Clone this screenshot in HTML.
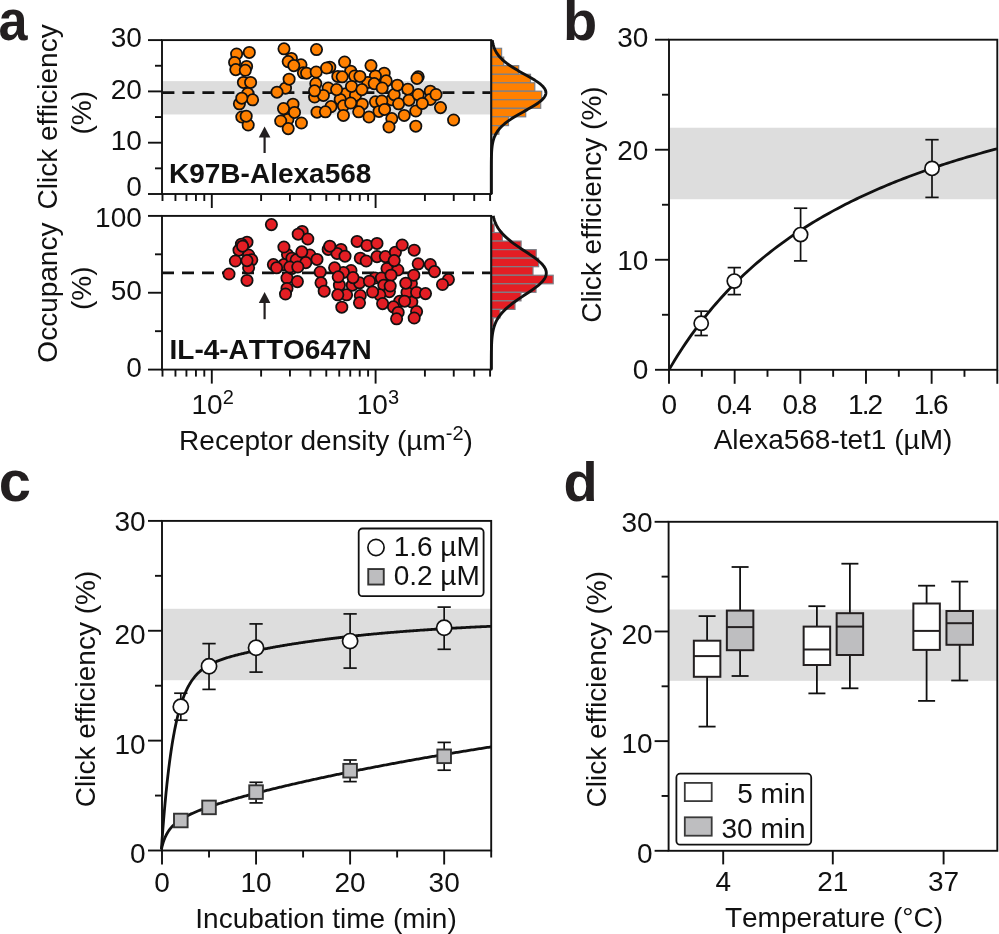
<!DOCTYPE html>
<html><head><meta charset="utf-8"><style>
html,body{margin:0;padding:0;background:#fff;}
svg{display:block;font-family:"Liberation Sans", sans-serif;font-kerning:none;will-change:transform;}
</style></head><body>
<svg width="999" height="934" viewBox="0 0 999 934">
<rect x="162.0" y="81.14" width="329.3" height="33.34" fill="#dddddd"/>
<line x1="162.00" y1="92.60" x2="491.30" y2="92.60" stroke="#111" stroke-width="2.8" stroke-dasharray="12,8" stroke-dashoffset="-0.4"/>
<line x1="162.00" y1="272.90" x2="491.30" y2="272.90" stroke="#111" stroke-width="2.8" stroke-dasharray="12,8"/>
<line x1="148.00" y1="194.00" x2="162.00" y2="194.00" stroke="#111" stroke-width="1.9" />
<line x1="155.00" y1="168.35" x2="162.00" y2="168.35" stroke="#111" stroke-width="1.9" />
<line x1="148.00" y1="142.70" x2="162.00" y2="142.70" stroke="#111" stroke-width="1.9" />
<line x1="155.00" y1="117.05" x2="162.00" y2="117.05" stroke="#111" stroke-width="1.9" />
<line x1="148.00" y1="91.40" x2="162.00" y2="91.40" stroke="#111" stroke-width="1.9" />
<line x1="155.00" y1="65.75" x2="162.00" y2="65.75" stroke="#111" stroke-width="1.9" />
<line x1="148.00" y1="40.10" x2="162.00" y2="40.10" stroke="#111" stroke-width="1.9" />
<text x="141.90" y="47.40" font-size="28" text-anchor="end" font-weight="normal" fill="#111" >30</text>
<text x="141.90" y="99.10" font-size="28" text-anchor="end" font-weight="normal" fill="#111" >20</text>
<text x="141.90" y="149.90" font-size="28" text-anchor="end" font-weight="normal" fill="#111" >10</text>
<text x="141.90" y="195.80" font-size="28" text-anchor="end" font-weight="normal" fill="#111" >0</text>
<line x1="148.00" y1="369.60" x2="162.00" y2="369.60" stroke="#111" stroke-width="1.9" />
<line x1="155.00" y1="331.18" x2="162.00" y2="331.18" stroke="#111" stroke-width="1.9" />
<line x1="148.00" y1="292.75" x2="162.00" y2="292.75" stroke="#111" stroke-width="1.9" />
<line x1="155.00" y1="254.32" x2="162.00" y2="254.32" stroke="#111" stroke-width="1.9" />
<line x1="148.00" y1="215.90" x2="162.00" y2="215.90" stroke="#111" stroke-width="1.9" />
<text x="141.80" y="227.10" font-size="28" text-anchor="end" font-weight="normal" fill="#111" >100</text>
<text x="141.80" y="300.00" font-size="28" text-anchor="end" font-weight="normal" fill="#111" >50</text>
<text x="141.80" y="377.10" font-size="28" text-anchor="end" font-weight="normal" fill="#111" >0</text>
<line x1="162.49" y1="194.00" x2="162.49" y2="201.00" stroke="#111" stroke-width="1.9" />
<line x1="175.46" y1="194.00" x2="175.46" y2="201.00" stroke="#111" stroke-width="1.9" />
<line x1="186.43" y1="194.00" x2="186.43" y2="201.00" stroke="#111" stroke-width="1.9" />
<line x1="195.93" y1="194.00" x2="195.93" y2="201.00" stroke="#111" stroke-width="1.9" />
<line x1="204.30" y1="194.00" x2="204.30" y2="201.00" stroke="#111" stroke-width="1.9" />
<line x1="211.80" y1="194.00" x2="211.80" y2="208.00" stroke="#111" stroke-width="1.9" />
<line x1="261.11" y1="194.00" x2="261.11" y2="201.00" stroke="#111" stroke-width="1.9" />
<line x1="289.95" y1="194.00" x2="289.95" y2="201.00" stroke="#111" stroke-width="1.9" />
<line x1="310.42" y1="194.00" x2="310.42" y2="201.00" stroke="#111" stroke-width="1.9" />
<line x1="326.29" y1="194.00" x2="326.29" y2="201.00" stroke="#111" stroke-width="1.9" />
<line x1="339.26" y1="194.00" x2="339.26" y2="201.00" stroke="#111" stroke-width="1.9" />
<line x1="350.23" y1="194.00" x2="350.23" y2="201.00" stroke="#111" stroke-width="1.9" />
<line x1="359.73" y1="194.00" x2="359.73" y2="201.00" stroke="#111" stroke-width="1.9" />
<line x1="368.10" y1="194.00" x2="368.10" y2="201.00" stroke="#111" stroke-width="1.9" />
<line x1="375.60" y1="194.00" x2="375.60" y2="208.00" stroke="#111" stroke-width="1.9" />
<line x1="424.91" y1="194.00" x2="424.91" y2="201.00" stroke="#111" stroke-width="1.9" />
<line x1="453.75" y1="194.00" x2="453.75" y2="201.00" stroke="#111" stroke-width="1.9" />
<line x1="474.22" y1="194.00" x2="474.22" y2="201.00" stroke="#111" stroke-width="1.9" />
<line x1="490.09" y1="194.00" x2="490.09" y2="201.00" stroke="#111" stroke-width="1.9" />
<line x1="162.49" y1="369.60" x2="162.49" y2="376.60" stroke="#111" stroke-width="1.9" />
<line x1="175.46" y1="369.60" x2="175.46" y2="376.60" stroke="#111" stroke-width="1.9" />
<line x1="186.43" y1="369.60" x2="186.43" y2="376.60" stroke="#111" stroke-width="1.9" />
<line x1="195.93" y1="369.60" x2="195.93" y2="376.60" stroke="#111" stroke-width="1.9" />
<line x1="204.30" y1="369.60" x2="204.30" y2="376.60" stroke="#111" stroke-width="1.9" />
<line x1="211.80" y1="369.60" x2="211.80" y2="383.60" stroke="#111" stroke-width="1.9" />
<line x1="261.11" y1="369.60" x2="261.11" y2="376.60" stroke="#111" stroke-width="1.9" />
<line x1="289.95" y1="369.60" x2="289.95" y2="376.60" stroke="#111" stroke-width="1.9" />
<line x1="310.42" y1="369.60" x2="310.42" y2="376.60" stroke="#111" stroke-width="1.9" />
<line x1="326.29" y1="369.60" x2="326.29" y2="376.60" stroke="#111" stroke-width="1.9" />
<line x1="339.26" y1="369.60" x2="339.26" y2="376.60" stroke="#111" stroke-width="1.9" />
<line x1="350.23" y1="369.60" x2="350.23" y2="376.60" stroke="#111" stroke-width="1.9" />
<line x1="359.73" y1="369.60" x2="359.73" y2="376.60" stroke="#111" stroke-width="1.9" />
<line x1="368.10" y1="369.60" x2="368.10" y2="376.60" stroke="#111" stroke-width="1.9" />
<line x1="375.60" y1="369.60" x2="375.60" y2="383.60" stroke="#111" stroke-width="1.9" />
<line x1="424.91" y1="369.60" x2="424.91" y2="376.60" stroke="#111" stroke-width="1.9" />
<line x1="453.75" y1="369.60" x2="453.75" y2="376.60" stroke="#111" stroke-width="1.9" />
<line x1="474.22" y1="369.60" x2="474.22" y2="376.60" stroke="#111" stroke-width="1.9" />
<line x1="490.09" y1="369.60" x2="490.09" y2="376.60" stroke="#111" stroke-width="1.9" />
<rect x="162.00" y="40.10" width="329.30" height="153.90" fill="none" stroke="#111" stroke-width="1.9"/>
<rect x="162.00" y="215.90" width="329.30" height="153.70" fill="none" stroke="#111" stroke-width="1.9"/>
<text x="191.50" y="413.50" font-size="28" text-anchor="start" font-weight="normal" fill="#111" >10<tspan font-size="20" dy="-10">2</tspan></text>
<text x="356.80" y="413.50" font-size="28" text-anchor="start" font-weight="normal" fill="#111" >10<tspan font-size="20" dy="-10">3</tspan></text>
<text x="326.00" y="449.70" font-size="28" text-anchor="middle" font-weight="normal" fill="#111" >Receptor density (µm<tspan font-size="20" dy="-10">-2</tspan><tspan dy="10">)</tspan></text>
<text transform="translate(57.30,116.90) rotate(-90)" font-size="28" text-anchor="middle" fill="#111" >Click efficiency</text>
<text transform="translate(91.00,112.80) rotate(-90)" font-size="28" text-anchor="middle" fill="#111" >(%)</text>
<text transform="translate(57.30,292.60) rotate(-90)" font-size="28" text-anchor="middle" fill="#111" >Occupancy</text>
<text transform="translate(91.00,288.30) rotate(-90)" font-size="28" text-anchor="middle" fill="#111" >(%)</text>
<text x="169.00" y="183.10" font-size="28" text-anchor="start" font-weight="bold" fill="#111" >K97B-Alexa568</text>
<text x="169.50" y="358.60" font-size="28" text-anchor="start" font-weight="bold" fill="#111" >IL-4-ATTO647N</text>
<path d="M258.80,137.50 L264.60,126.50 L270.40,137.50 Z" fill="#231f20"/>
<line x1="264.60" y1="134.50" x2="264.60" y2="153.00" stroke="#231f20" stroke-width="2.2" />
<path d="M258.80,303.10 L264.60,292.10 L270.40,303.10 Z" fill="#231f20"/>
<line x1="264.60" y1="300.10" x2="264.60" y2="319.20" stroke="#231f20" stroke-width="2.2" />
<rect x="669.0" y="127.73" width="328.30" height="71.52" fill="#dddddd"/>
<line x1="655.00" y1="369.80" x2="669.00" y2="369.80" stroke="#111" stroke-width="1.9" />
<line x1="662.00" y1="314.78" x2="669.00" y2="314.78" stroke="#111" stroke-width="1.9" />
<line x1="655.00" y1="259.77" x2="669.00" y2="259.77" stroke="#111" stroke-width="1.9" />
<line x1="662.00" y1="204.75" x2="669.00" y2="204.75" stroke="#111" stroke-width="1.9" />
<line x1="655.00" y1="149.73" x2="669.00" y2="149.73" stroke="#111" stroke-width="1.9" />
<line x1="662.00" y1="94.72" x2="669.00" y2="94.72" stroke="#111" stroke-width="1.9" />
<line x1="655.00" y1="39.70" x2="669.00" y2="39.70" stroke="#111" stroke-width="1.9" />
<text x="648.40" y="47.40" font-size="28" text-anchor="end" font-weight="normal" fill="#111" >30</text>
<text x="648.40" y="159.50" font-size="28" text-anchor="end" font-weight="normal" fill="#111" >20</text>
<text x="648.40" y="269.50" font-size="28" text-anchor="end" font-weight="normal" fill="#111" >10</text>
<text x="648.40" y="379.00" font-size="28" text-anchor="end" font-weight="normal" fill="#111" >0</text>
<line x1="669.00" y1="369.80" x2="669.00" y2="383.80" stroke="#111" stroke-width="1.9" />
<line x1="701.83" y1="369.80" x2="701.83" y2="376.80" stroke="#111" stroke-width="1.9" />
<line x1="734.66" y1="369.80" x2="734.66" y2="383.80" stroke="#111" stroke-width="1.9" />
<line x1="767.49" y1="369.80" x2="767.49" y2="376.80" stroke="#111" stroke-width="1.9" />
<line x1="800.32" y1="369.80" x2="800.32" y2="383.80" stroke="#111" stroke-width="1.9" />
<line x1="833.15" y1="369.80" x2="833.15" y2="376.80" stroke="#111" stroke-width="1.9" />
<line x1="865.98" y1="369.80" x2="865.98" y2="383.80" stroke="#111" stroke-width="1.9" />
<line x1="898.81" y1="369.80" x2="898.81" y2="376.80" stroke="#111" stroke-width="1.9" />
<line x1="931.64" y1="369.80" x2="931.64" y2="383.80" stroke="#111" stroke-width="1.9" />
<line x1="964.47" y1="369.80" x2="964.47" y2="376.80" stroke="#111" stroke-width="1.9" />
<line x1="997.30" y1="369.80" x2="997.30" y2="383.80" stroke="#111" stroke-width="1.9" />
<text x="669.20" y="414.00" font-size="28" text-anchor="middle" font-weight="normal" fill="#111" >0</text>
<text x="733.26" y="414.00" font-size="28" text-anchor="middle" font-weight="normal" fill="#111" letter-spacing="-2">0.4</text>
<text x="798.92" y="414.00" font-size="28" text-anchor="middle" font-weight="normal" fill="#111" letter-spacing="-2">0.8</text>
<text x="864.58" y="414.00" font-size="28" text-anchor="middle" font-weight="normal" fill="#111" letter-spacing="-2">1.2</text>
<text x="930.24" y="414.00" font-size="28" text-anchor="middle" font-weight="normal" fill="#111" letter-spacing="-2">1.6</text>
<text x="833.00" y="449.40" font-size="28" text-anchor="middle" font-weight="normal" fill="#111" >Alexa568-tet1 (µM)</text>
<text transform="translate(601.30,204.60) rotate(-90)" font-size="28" text-anchor="middle" fill="#111" >Click efficiency (%)</text>
<rect x="669.00" y="39.70" width="328.30" height="330.10" fill="none" stroke="#111" stroke-width="1.9"/>
<text x="563.00" y="40.40" font-size="56" text-anchor="start" font-weight="bold" fill="#231f20" >b</text>
<text transform="translate(-1.6,40.3) scale(0.9,1)" font-size="58" font-weight="bold" fill="#231f20">a</text>
<text x="-1.20" y="500.70" font-size="58" text-anchor="start" font-weight="bold" fill="#231f20" >c</text>
<text x="563.50" y="500.50" font-size="56" text-anchor="start" font-weight="bold" fill="#231f20" >d</text>
<rect x="162.0" y="608.79" width="329.20" height="71.41" fill="#dddddd"/>
<line x1="148.00" y1="850.50" x2="162.00" y2="850.50" stroke="#111" stroke-width="1.9" />
<line x1="155.00" y1="795.57" x2="162.00" y2="795.57" stroke="#111" stroke-width="1.9" />
<line x1="148.00" y1="740.63" x2="162.00" y2="740.63" stroke="#111" stroke-width="1.9" />
<line x1="155.00" y1="685.70" x2="162.00" y2="685.70" stroke="#111" stroke-width="1.9" />
<line x1="148.00" y1="630.77" x2="162.00" y2="630.77" stroke="#111" stroke-width="1.9" />
<line x1="155.00" y1="575.83" x2="162.00" y2="575.83" stroke="#111" stroke-width="1.9" />
<line x1="148.00" y1="520.90" x2="162.00" y2="520.90" stroke="#111" stroke-width="1.9" />
<text x="145.70" y="530.50" font-size="28" text-anchor="end" font-weight="normal" fill="#111" >30</text>
<text x="145.70" y="643.50" font-size="28" text-anchor="end" font-weight="normal" fill="#111" >20</text>
<text x="145.70" y="753.50" font-size="28" text-anchor="end" font-weight="normal" fill="#111" >10</text>
<text x="145.70" y="862.80" font-size="28" text-anchor="end" font-weight="normal" fill="#111" >0</text>
<line x1="162.00" y1="850.50" x2="162.00" y2="864.50" stroke="#111" stroke-width="1.9" />
<line x1="209.03" y1="850.50" x2="209.03" y2="857.50" stroke="#111" stroke-width="1.9" />
<line x1="256.06" y1="850.50" x2="256.06" y2="864.50" stroke="#111" stroke-width="1.9" />
<line x1="303.09" y1="850.50" x2="303.09" y2="857.50" stroke="#111" stroke-width="1.9" />
<line x1="350.11" y1="850.50" x2="350.11" y2="864.50" stroke="#111" stroke-width="1.9" />
<line x1="397.14" y1="850.50" x2="397.14" y2="857.50" stroke="#111" stroke-width="1.9" />
<line x1="444.17" y1="850.50" x2="444.17" y2="864.50" stroke="#111" stroke-width="1.9" />
<line x1="491.20" y1="850.50" x2="491.20" y2="857.50" stroke="#111" stroke-width="1.9" />
<text x="162.00" y="892.00" font-size="28" text-anchor="middle" font-weight="normal" fill="#111" >0</text>
<text x="256.06" y="892.00" font-size="28" text-anchor="middle" font-weight="normal" fill="#111" >10</text>
<text x="350.11" y="892.00" font-size="28" text-anchor="middle" font-weight="normal" fill="#111" >20</text>
<text x="444.17" y="892.00" font-size="28" text-anchor="middle" font-weight="normal" fill="#111" >30</text>
<text x="326.00" y="927.50" font-size="28" text-anchor="middle" font-weight="normal" fill="#111" >Incubation time (min)</text>
<text transform="translate(95.00,689.00) rotate(-90)" font-size="28" text-anchor="middle" fill="#111" >Click efficiency (%)</text>
<rect x="162.00" y="520.90" width="329.20" height="329.60" fill="none" stroke="#111" stroke-width="1.9"/>
<rect x="668.6" y="609.53" width="328.70" height="71.28" fill="#dddddd"/>
<line x1="654.60" y1="850.80" x2="668.60" y2="850.80" stroke="#111" stroke-width="1.9" />
<line x1="661.60" y1="795.97" x2="668.60" y2="795.97" stroke="#111" stroke-width="1.9" />
<line x1="654.60" y1="741.13" x2="668.60" y2="741.13" stroke="#111" stroke-width="1.9" />
<line x1="661.60" y1="686.30" x2="668.60" y2="686.30" stroke="#111" stroke-width="1.9" />
<line x1="654.60" y1="631.47" x2="668.60" y2="631.47" stroke="#111" stroke-width="1.9" />
<line x1="661.60" y1="576.63" x2="668.60" y2="576.63" stroke="#111" stroke-width="1.9" />
<line x1="654.60" y1="521.80" x2="668.60" y2="521.80" stroke="#111" stroke-width="1.9" />
<text x="652.70" y="531.70" font-size="28" text-anchor="end" font-weight="normal" fill="#111" >30</text>
<text x="652.70" y="643.80" font-size="28" text-anchor="end" font-weight="normal" fill="#111" >20</text>
<text x="652.70" y="753.30" font-size="28" text-anchor="end" font-weight="normal" fill="#111" >10</text>
<text x="652.70" y="862.90" font-size="28" text-anchor="end" font-weight="normal" fill="#111" >0</text>
<line x1="723.20" y1="850.80" x2="723.20" y2="864.40" stroke="#111" stroke-width="1.9" />
<text x="723.20" y="891.00" font-size="28" text-anchor="middle" font-weight="normal" fill="#111" >4</text>
<line x1="832.80" y1="850.80" x2="832.80" y2="864.40" stroke="#111" stroke-width="1.9" />
<text x="832.80" y="891.00" font-size="28" text-anchor="middle" font-weight="normal" fill="#111" >21</text>
<line x1="943.60" y1="850.80" x2="943.60" y2="864.40" stroke="#111" stroke-width="1.9" />
<text x="943.60" y="891.00" font-size="28" text-anchor="middle" font-weight="normal" fill="#111" >37</text>
<text x="834.00" y="927.30" font-size="28" text-anchor="middle" font-weight="normal" fill="#111" >Temperature (°C)</text>
<text transform="translate(605.80,689.20) rotate(-90)" font-size="28" text-anchor="middle" fill="#111" >Click efficiency (%)</text>
<rect x="668.60" y="521.80" width="328.70" height="329.00" fill="none" stroke="#111" stroke-width="1.9"/>
<clipPath id="cb"><rect x="669.00" y="39.70" width="328.30" height="330.10"/></clipPath>
<path d="M669.00,369.80 L671.76,365.11 L674.52,360.54 L677.28,356.09 L680.04,351.75 L682.79,347.51 L685.55,343.38 L688.31,339.34 L691.07,335.41 L693.83,331.56 L696.59,327.80 L699.35,324.13 L702.11,320.54 L704.86,317.03 L707.62,313.60 L710.38,310.25 L713.14,306.96 L715.90,303.75 L718.66,300.61 L721.42,297.53 L724.18,294.51 L726.94,291.56 L729.69,288.66 L732.45,285.83 L735.21,283.05 L737.97,280.33 L740.73,277.66 L743.49,275.04 L746.25,272.47 L749.01,269.95 L751.76,267.47 L754.52,265.05 L757.28,262.67 L760.04,260.33 L762.80,258.03 L765.56,255.78 L768.32,253.56 L771.08,251.38 L773.84,249.25 L776.59,247.15 L779.35,245.08 L782.11,243.05 L784.87,241.06 L787.63,239.09 L790.39,237.17 L793.15,235.27 L795.91,233.40 L798.66,231.56 L801.42,229.76 L804.18,227.98 L806.94,226.23 L809.70,224.51 L812.46,222.81 L815.22,221.14 L817.98,219.50 L820.74,217.88 L823.49,216.29 L826.25,214.71 L829.01,213.17 L831.77,211.64 L834.53,210.14 L837.29,208.66 L840.05,207.20 L842.81,205.76 L845.56,204.35 L848.32,202.95 L851.08,201.57 L853.84,200.21 L856.60,198.87 L859.36,197.55 L862.12,196.25 L864.88,194.96 L867.64,193.70 L870.39,192.45 L873.15,191.21 L875.91,189.99 L878.67,188.79 L881.43,187.60 L884.19,186.43 L886.95,185.28 L889.71,184.13 L892.46,183.01 L895.22,181.89 L897.98,180.80 L900.74,179.71 L903.50,178.64 L906.26,177.58 L909.02,176.54 L911.78,175.50 L914.54,174.48 L917.29,173.47 L920.05,172.48 L922.81,171.49 L925.57,170.52 L928.33,169.56 L931.09,168.61 L933.85,167.67 L936.61,166.74 L939.36,165.83 L942.12,164.92 L944.88,164.02 L947.64,163.14 L950.40,162.26 L953.16,161.39 L955.92,160.53 L958.68,159.69 L961.44,158.85 L964.19,158.02 L966.95,157.20 L969.71,156.39 L972.47,155.58 L975.23,154.79 L977.99,154.00 L980.75,153.23 L983.51,152.46 L986.26,151.70 L989.02,150.94 L991.78,150.20 L994.54,149.46 L997.30,148.73" fill="none" stroke="#111" stroke-width="2.8" clip-path="url(#cb)"/>
<line x1="701.20" y1="311.20" x2="701.20" y2="335.50" stroke="#111" stroke-width="1.7" />
<line x1="694.55" y1="311.20" x2="707.85" y2="311.20" stroke="#111" stroke-width="1.7" />
<line x1="694.55" y1="335.50" x2="707.85" y2="335.50" stroke="#111" stroke-width="1.7" />
<circle cx="701.20" cy="323.30" r="7.1" fill="#fff" stroke="#111" stroke-width="1.7"/>
<line x1="734.30" y1="267.60" x2="734.30" y2="294.60" stroke="#111" stroke-width="1.7" />
<line x1="727.65" y1="267.60" x2="740.95" y2="267.60" stroke="#111" stroke-width="1.7" />
<line x1="727.65" y1="294.60" x2="740.95" y2="294.60" stroke="#111" stroke-width="1.7" />
<circle cx="734.30" cy="281.10" r="7.1" fill="#fff" stroke="#111" stroke-width="1.7"/>
<line x1="800.60" y1="208.20" x2="800.60" y2="260.90" stroke="#111" stroke-width="1.7" />
<line x1="793.95" y1="208.20" x2="807.25" y2="208.20" stroke="#111" stroke-width="1.7" />
<line x1="793.95" y1="260.90" x2="807.25" y2="260.90" stroke="#111" stroke-width="1.7" />
<circle cx="800.60" cy="234.60" r="7.1" fill="#fff" stroke="#111" stroke-width="1.7"/>
<line x1="932.00" y1="139.70" x2="932.00" y2="197.40" stroke="#111" stroke-width="1.7" />
<line x1="925.35" y1="139.70" x2="938.65" y2="139.70" stroke="#111" stroke-width="1.7" />
<line x1="925.35" y1="197.40" x2="938.65" y2="197.40" stroke="#111" stroke-width="1.7" />
<circle cx="932.00" cy="168.40" r="7.1" fill="#fff" stroke="#111" stroke-width="1.7"/>
<path d="M161.40,849.40 L161.42,849.07 L161.47,848.40 L161.53,847.49 L161.61,846.39 L161.70,845.11 L161.80,843.68 L161.91,842.12 L162.03,840.43 L162.16,838.62 L162.30,836.72 L162.45,834.71 L162.61,832.62 L162.77,830.45 L162.94,828.21 L163.12,825.91 L163.31,823.54 L163.51,821.13 L163.71,818.66 L163.92,816.15 L164.13,813.61 L164.35,811.03 L164.58,808.43 L164.82,805.80 L165.06,803.16 L165.31,800.50 L165.56,797.82 L165.82,795.15 L166.08,792.46 L166.35,789.78 L166.63,787.10 L166.91,784.43 L167.20,781.76 L167.49,779.11 L167.79,776.47 L168.09,773.85 L168.40,771.24 L168.71,768.66 L169.03,766.10 L169.36,763.56 L169.68,761.05 L170.02,758.57 L170.36,756.11 L170.70,753.69 L171.05,751.30 L171.40,748.94 L171.76,746.61 L172.12,744.32 L172.49,742.07 L172.86,739.85 L173.24,737.67 L173.62,735.53 L174.01,733.43 L174.40,731.36 L174.79,729.34 L175.19,727.35 L175.59,725.40 L176.00,723.49 L176.41,721.62 L176.83,719.79 L177.25,718.00 L177.67,716.25 L178.10,714.54 L178.54,712.87 L178.97,711.24 L179.41,709.64 L179.86,708.09 L180.31,706.57 L180.76,705.08 L181.22,703.64 L181.68,702.23 L182.15,700.86 L182.62,699.52 L183.09,698.22 L183.57,696.95 L184.05,695.71 L184.53,694.51 L185.02,693.34 L185.52,692.21 L186.01,691.10 L186.51,690.02 L187.02,688.98 L187.53,687.96 L188.04,686.97 L188.55,686.01 L189.07,685.08 L189.59,684.17 L190.12,683.29 L190.65,682.44 L191.18,681.61 L191.72,680.80 L192.26,680.02 L192.81,679.26 L193.35,678.52 L193.91,677.80 L194.46,677.10 L195.02,676.43 L195.58,675.77 L196.15,675.13 L196.72,674.51 L197.29,673.91 L197.86,673.33 L198.44,672.76 L199.03,672.20 L199.61,671.67 L200.20,671.15 L200.80,670.64 L201.39,670.14 L201.99,669.66 L202.59,669.20 L203.20,668.74 L203.81,668.30 L204.42,667.87 L205.04,667.45 L205.66,667.04 L206.28,666.64 L206.91,666.25 L207.54,665.87 L208.17,665.50 L208.81,665.14 L209.45,664.79 L210.09,664.45 L210.73,664.11 L211.38,663.78 L212.03,663.46 L212.69,663.15 L213.35,662.84 L214.01,662.54 L214.67,662.24 L215.34,661.95 L216.01,661.67 L216.68,661.39 L217.36,661.11 L218.04,660.84 L218.72,660.58 L219.41,660.32 L220.10,660.07 L220.79,659.81 L221.49,659.57 L222.18,659.32 L222.88,659.08 L223.59,658.85 L224.30,658.61 L225.01,658.38 L225.72,658.16 L226.44,657.93 L227.15,657.71 L227.88,657.49 L228.60,657.28 L229.33,657.06 L230.06,656.85 L230.79,656.64 L231.53,656.43 L232.27,656.23 L233.01,656.02 L233.76,655.82 L234.51,655.62 L235.26,655.42 L236.01,655.23 L236.77,655.03 L237.53,654.84 L238.29,654.64 L239.06,654.45 L239.83,654.26 L240.60,654.08 L241.37,653.89 L242.15,653.70 L242.93,653.52 L243.71,653.33 L244.50,653.15 L245.28,652.97 L246.07,652.79 L246.87,652.61 L247.67,652.43 L248.46,652.25 L249.27,652.07 L250.07,651.90 L250.88,651.72 L251.69,651.55 L252.50,651.37 L253.32,651.20 L254.14,651.02 L254.96,650.85 L255.78,650.68 L256.61,650.51 L257.44,650.34 L258.27,650.17 L259.10,650.00 L259.94,649.83 L260.78,649.67 L261.62,649.50 L262.47,649.33 L263.32,649.17 L264.17,649.00 L265.02,648.84 L265.88,648.67 L266.73,648.51 L267.60,648.35 L268.46,648.18 L269.33,648.02 L270.20,647.86 L271.07,647.70 L271.94,647.54 L272.82,647.38 L273.70,647.22 L274.58,647.06 L275.46,646.90 L276.35,646.74 L277.24,646.59 L278.13,646.43 L279.03,646.27 L279.93,646.12 L280.83,645.96 L281.73,645.81 L282.63,645.65 L283.54,645.50 L284.45,645.35 L285.36,645.19 L286.28,645.04 L287.20,644.89 L288.12,644.74 L289.04,644.59 L289.97,644.44 L290.89,644.29 L291.82,644.14 L292.76,643.99 L293.69,643.84 L294.63,643.69 L295.57,643.55 L296.51,643.40 L297.46,643.26 L298.41,643.11 L299.36,642.97 L300.31,642.82 L301.26,642.68 L302.22,642.53 L303.18,642.39 L304.14,642.25 L305.11,642.11 L306.08,641.97 L307.05,641.83 L308.02,641.69 L308.99,641.55 L309.97,641.41 L310.95,641.27 L311.93,641.13 L312.92,640.99 L313.90,640.86 L314.89,640.72 L315.88,640.58 L316.88,640.45 L317.87,640.31 L318.87,640.18 L319.87,640.05 L320.88,639.91 L321.88,639.78 L322.89,639.65 L323.90,639.52 L324.91,639.39 L325.93,639.26 L326.95,639.13 L327.97,639.00 L328.99,638.87 L330.01,638.74 L331.04,638.61 L332.07,638.49 L333.10,638.36 L334.13,638.24 L335.17,638.11 L336.21,637.99 L337.25,637.86 L338.29,637.74 L339.34,637.62 L340.39,637.49 L341.44,637.37 L342.49,637.25 L343.54,637.13 L344.60,637.01 L345.66,636.89 L346.72,636.77 L347.79,636.65 L348.85,636.54 L349.92,636.42 L350.99,636.30 L352.06,636.18 L353.14,636.07 L354.22,635.95 L355.30,635.84 L356.38,635.73 L357.46,635.61 L358.55,635.50 L359.64,635.39 L360.73,635.28 L361.82,635.16 L362.92,635.05 L364.02,634.94 L365.12,634.83 L366.22,634.73 L367.32,634.62 L368.43,634.51 L369.54,634.40 L370.65,634.30 L371.76,634.19 L372.88,634.08 L374.00,633.98 L375.12,633.87 L376.24,633.77 L377.36,633.67 L378.49,633.56 L379.62,633.46 L380.75,633.36 L381.88,633.26 L383.02,633.16 L384.16,633.06 L385.30,632.96 L386.44,632.86 L387.58,632.76 L388.73,632.66 L389.88,632.57 L391.03,632.47 L392.18,632.37 L393.34,632.28 L394.49,632.18 L395.65,632.09 L396.81,631.99 L397.98,631.90 L399.14,631.81 L400.31,631.72 L401.48,631.62 L402.65,631.53 L403.83,631.44 L405.00,631.35 L406.18,631.26 L407.36,631.17 L408.55,631.08 L409.73,630.99 L410.92,630.91 L412.11,630.82 L413.30,630.73 L414.49,630.65 L415.69,630.56 L416.89,630.48 L418.09,630.39 L419.29,630.31 L420.49,630.22 L421.70,630.14 L422.91,630.06 L424.12,629.98 L425.33,629.89 L426.54,629.81 L427.76,629.73 L428.98,629.65 L430.20,629.57 L431.42,629.49 L432.65,629.41 L433.87,629.34 L435.10,629.26 L436.34,629.18 L437.57,629.10 L438.80,629.03 L440.04,628.95 L441.28,628.88 L442.52,628.80 L443.77,628.73 L445.01,628.65 L446.26,628.58 L447.51,628.51 L448.76,628.44 L450.01,628.36 L451.27,628.29 L452.53,628.22 L453.79,628.15 L455.05,628.08 L456.31,628.01 L457.58,627.94 L458.85,627.87 L460.12,627.80 L461.39,627.74 L462.66,627.67 L463.94,627.60 L465.22,627.54 L466.50,627.47 L467.78,627.40 L469.07,627.34 L470.35,627.27 L471.64,627.21 L472.93,627.15 L474.22,627.08 L475.52,627.02 L476.81,626.96 L478.11,626.90 L479.41,626.83 L480.71,626.77 L482.02,626.71 L483.33,626.65 L484.63,626.59 L485.94,626.53 L487.26,626.47 L488.57,626.41 L489.89,626.36 L491.21,626.30" fill="none" stroke="#111" stroke-width="2.8"/>
<path d="M161.40,849.40 L161.42,849.30 L161.47,849.09 L161.53,848.80 L161.61,848.46 L161.70,848.07 L161.80,847.65 L161.91,847.18 L162.03,846.69 L162.16,846.17 L162.30,845.64 L162.45,845.08 L162.61,844.52 L162.77,843.94 L162.94,843.36 L163.12,842.77 L163.31,842.18 L163.51,841.58 L163.71,840.99 L163.92,840.40 L164.13,839.81 L164.35,839.22 L164.58,838.64 L164.82,838.06 L165.06,837.49 L165.31,836.93 L165.56,836.37 L165.82,835.83 L166.08,835.29 L166.35,834.75 L166.63,834.23 L166.91,833.71 L167.20,833.20 L167.49,832.70 L167.79,832.21 L168.09,831.73 L168.40,831.26 L168.71,830.79 L169.03,830.33 L169.36,829.88 L169.68,829.44 L170.02,829.00 L170.36,828.57 L170.70,828.15 L171.05,827.74 L171.40,827.33 L171.76,826.93 L172.12,826.54 L172.49,826.15 L172.86,825.77 L173.24,825.40 L173.62,825.03 L174.01,824.66 L174.40,824.31 L174.79,823.95 L175.19,823.61 L175.59,823.26 L176.00,822.93 L176.41,822.59 L176.83,822.26 L177.25,821.94 L177.67,821.62 L178.10,821.30 L178.54,820.99 L178.97,820.68 L179.41,820.38 L179.86,820.08 L180.31,819.78 L180.76,819.49 L181.22,819.20 L181.68,818.91 L182.15,818.62 L182.62,818.34 L183.09,818.06 L183.57,817.78 L184.05,817.51 L184.53,817.24 L185.02,816.97 L185.52,816.70 L186.01,816.44 L186.51,816.17 L187.02,815.91 L187.53,815.66 L188.04,815.40 L188.55,815.14 L189.07,814.89 L189.59,814.64 L190.12,814.39 L190.65,814.14 L191.18,813.89 L191.72,813.65 L192.26,813.40 L192.81,813.16 L193.35,812.92 L193.91,812.68 L194.46,812.44 L195.02,812.20 L195.58,811.97 L196.15,811.73 L196.72,811.50 L197.29,811.26 L197.86,811.03 L198.44,810.80 L199.03,810.57 L199.61,810.34 L200.20,810.11 L200.80,809.88 L201.39,809.65 L201.99,809.43 L202.59,809.20 L203.20,808.97 L203.81,808.75 L204.42,808.52 L205.04,808.30 L205.66,808.08 L206.28,807.86 L206.91,807.63 L207.54,807.41 L208.17,807.19 L208.81,806.97 L209.45,806.75 L210.09,806.53 L210.73,806.31 L211.38,806.09 L212.03,805.87 L212.69,805.65 L213.35,805.44 L214.01,805.22 L214.67,805.00 L215.34,804.78 L216.01,804.57 L216.68,804.35 L217.36,804.13 L218.04,803.92 L218.72,803.70 L219.41,803.49 L220.10,803.27 L220.79,803.06 L221.49,802.84 L222.18,802.63 L222.88,802.41 L223.59,802.20 L224.30,801.98 L225.01,801.77 L225.72,801.55 L226.44,801.34 L227.15,801.12 L227.88,800.91 L228.60,800.70 L229.33,800.48 L230.06,800.27 L230.79,800.06 L231.53,799.84 L232.27,799.63 L233.01,799.41 L233.76,799.20 L234.51,798.99 L235.26,798.77 L236.01,798.56 L236.77,798.35 L237.53,798.13 L238.29,797.92 L239.06,797.71 L239.83,797.50 L240.60,797.28 L241.37,797.07 L242.15,796.86 L242.93,796.64 L243.71,796.43 L244.50,796.22 L245.28,796.00 L246.07,795.79 L246.87,795.58 L247.67,795.36 L248.46,795.15 L249.27,794.94 L250.07,794.72 L250.88,794.51 L251.69,794.30 L252.50,794.08 L253.32,793.87 L254.14,793.66 L254.96,793.44 L255.78,793.23 L256.61,793.02 L257.44,792.80 L258.27,792.59 L259.10,792.37 L259.94,792.16 L260.78,791.95 L261.62,791.73 L262.47,791.52 L263.32,791.30 L264.17,791.09 L265.02,790.88 L265.88,790.66 L266.73,790.45 L267.60,790.23 L268.46,790.02 L269.33,789.81 L270.20,789.59 L271.07,789.38 L271.94,789.16 L272.82,788.95 L273.70,788.73 L274.58,788.52 L275.46,788.30 L276.35,788.09 L277.24,787.87 L278.13,787.66 L279.03,787.45 L279.93,787.23 L280.83,787.02 L281.73,786.80 L282.63,786.59 L283.54,786.37 L284.45,786.16 L285.36,785.94 L286.28,785.73 L287.20,785.51 L288.12,785.29 L289.04,785.08 L289.97,784.86 L290.89,784.65 L291.82,784.43 L292.76,784.22 L293.69,784.00 L294.63,783.79 L295.57,783.57 L296.51,783.36 L297.46,783.14 L298.41,782.92 L299.36,782.71 L300.31,782.49 L301.26,782.28 L302.22,782.06 L303.18,781.84 L304.14,781.63 L305.11,781.41 L306.08,781.20 L307.05,780.98 L308.02,780.76 L308.99,780.55 L309.97,780.33 L310.95,780.12 L311.93,779.90 L312.92,779.68 L313.90,779.47 L314.89,779.25 L315.88,779.04 L316.88,778.82 L317.87,778.60 L318.87,778.39 L319.87,778.17 L320.88,777.95 L321.88,777.74 L322.89,777.52 L323.90,777.31 L324.91,777.09 L325.93,776.87 L326.95,776.66 L327.97,776.44 L328.99,776.22 L330.01,776.01 L331.04,775.79 L332.07,775.58 L333.10,775.36 L334.13,775.14 L335.17,774.93 L336.21,774.71 L337.25,774.49 L338.29,774.28 L339.34,774.06 L340.39,773.84 L341.44,773.63 L342.49,773.41 L343.54,773.20 L344.60,772.98 L345.66,772.76 L346.72,772.55 L347.79,772.33 L348.85,772.11 L349.92,771.90 L350.99,771.68 L352.06,771.47 L353.14,771.25 L354.22,771.03 L355.30,770.82 L356.38,770.60 L357.46,770.39 L358.55,770.17 L359.64,769.95 L360.73,769.74 L361.82,769.52 L362.92,769.31 L364.02,769.09 L365.12,768.88 L366.22,768.66 L367.32,768.44 L368.43,768.23 L369.54,768.01 L370.65,767.80 L371.76,767.58 L372.88,767.37 L374.00,767.15 L375.12,766.94 L376.24,766.72 L377.36,766.51 L378.49,766.29 L379.62,766.08 L380.75,765.86 L381.88,765.65 L383.02,765.43 L384.16,765.22 L385.30,765.00 L386.44,764.79 L387.58,764.57 L388.73,764.36 L389.88,764.14 L391.03,763.93 L392.18,763.71 L393.34,763.50 L394.49,763.28 L395.65,763.07 L396.81,762.86 L397.98,762.64 L399.14,762.43 L400.31,762.21 L401.48,762.00 L402.65,761.79 L403.83,761.57 L405.00,761.36 L406.18,761.14 L407.36,760.93 L408.55,760.72 L409.73,760.50 L410.92,760.29 L412.11,760.08 L413.30,759.87 L414.49,759.65 L415.69,759.44 L416.89,759.23 L418.09,759.01 L419.29,758.80 L420.49,758.59 L421.70,758.38 L422.91,758.16 L424.12,757.95 L425.33,757.74 L426.54,757.53 L427.76,757.32 L428.98,757.10 L430.20,756.89 L431.42,756.68 L432.65,756.47 L433.87,756.26 L435.10,756.05 L436.34,755.83 L437.57,755.62 L438.80,755.41 L440.04,755.20 L441.28,754.99 L442.52,754.78 L443.77,754.57 L445.01,754.36 L446.26,754.15 L447.51,753.94 L448.76,753.73 L450.01,753.52 L451.27,753.31 L452.53,753.10 L453.79,752.89 L455.05,752.68 L456.31,752.47 L457.58,752.26 L458.85,752.05 L460.12,751.84 L461.39,751.63 L462.66,751.42 L463.94,751.21 L465.22,751.01 L466.50,750.80 L467.78,750.59 L469.07,750.38 L470.35,750.17 L471.64,749.96 L472.93,749.76 L474.22,749.55 L475.52,749.34 L476.81,749.13 L478.11,748.93 L479.41,748.72 L480.71,748.51 L482.02,748.31 L483.33,748.10 L484.63,747.89 L485.94,747.69 L487.26,747.48 L488.57,747.27 L489.89,747.07 L491.21,746.86" fill="none" stroke="#111" stroke-width="2.8"/>
<line x1="180.81" y1="693.20" x2="180.81" y2="720.20" stroke="#111" stroke-width="1.7" />
<line x1="174.16" y1="693.20" x2="187.46" y2="693.20" stroke="#111" stroke-width="1.7" />
<line x1="174.16" y1="720.20" x2="187.46" y2="720.20" stroke="#111" stroke-width="1.7" />
<circle cx="180.81" cy="706.70" r="7.6" fill="#fff" stroke="#111" stroke-width="1.7"/>
<line x1="209.03" y1="643.60" x2="209.03" y2="689.40" stroke="#111" stroke-width="1.7" />
<line x1="202.38" y1="643.60" x2="215.68" y2="643.60" stroke="#111" stroke-width="1.7" />
<line x1="202.38" y1="689.40" x2="215.68" y2="689.40" stroke="#111" stroke-width="1.7" />
<circle cx="209.03" cy="666.30" r="7.6" fill="#fff" stroke="#111" stroke-width="1.7"/>
<line x1="256.06" y1="623.90" x2="256.06" y2="672.10" stroke="#111" stroke-width="1.7" />
<line x1="249.41" y1="623.90" x2="262.71" y2="623.90" stroke="#111" stroke-width="1.7" />
<line x1="249.41" y1="672.10" x2="262.71" y2="672.10" stroke="#111" stroke-width="1.7" />
<circle cx="256.06" cy="647.70" r="7.6" fill="#fff" stroke="#111" stroke-width="1.7"/>
<line x1="350.11" y1="613.90" x2="350.11" y2="668.10" stroke="#111" stroke-width="1.7" />
<line x1="343.46" y1="613.90" x2="356.76" y2="613.90" stroke="#111" stroke-width="1.7" />
<line x1="343.46" y1="668.10" x2="356.76" y2="668.10" stroke="#111" stroke-width="1.7" />
<circle cx="350.11" cy="641.10" r="7.6" fill="#fff" stroke="#111" stroke-width="1.7"/>
<line x1="444.17" y1="607.10" x2="444.17" y2="649.30" stroke="#111" stroke-width="1.7" />
<line x1="437.52" y1="607.10" x2="450.82" y2="607.10" stroke="#111" stroke-width="1.7" />
<line x1="437.52" y1="649.30" x2="450.82" y2="649.30" stroke="#111" stroke-width="1.7" />
<circle cx="444.17" cy="627.80" r="7.6" fill="#fff" stroke="#111" stroke-width="1.7"/>
<rect x="174.01" y="813.70" width="13.6" height="13.6" fill="#bdbdbf" stroke="#333" stroke-width="1.9"/>
<rect x="202.23" y="800.60" width="13.6" height="13.6" fill="#bdbdbf" stroke="#333" stroke-width="1.9"/>
<line x1="256.06" y1="782.30" x2="256.06" y2="802.90" stroke="#111" stroke-width="1.7" />
<line x1="249.41" y1="782.30" x2="262.71" y2="782.30" stroke="#111" stroke-width="1.7" />
<line x1="249.41" y1="802.90" x2="262.71" y2="802.90" stroke="#111" stroke-width="1.7" />
<rect x="249.26" y="785.30" width="13.6" height="13.6" fill="#bdbdbf" stroke="#333" stroke-width="1.9"/>
<line x1="350.11" y1="760.00" x2="350.11" y2="781.60" stroke="#111" stroke-width="1.7" />
<line x1="343.46" y1="760.00" x2="356.76" y2="760.00" stroke="#111" stroke-width="1.7" />
<line x1="343.46" y1="781.60" x2="356.76" y2="781.60" stroke="#111" stroke-width="1.7" />
<rect x="343.31" y="763.90" width="13.6" height="13.6" fill="#bdbdbf" stroke="#333" stroke-width="1.9"/>
<line x1="444.17" y1="742.40" x2="444.17" y2="770.20" stroke="#111" stroke-width="1.7" />
<line x1="437.52" y1="742.40" x2="450.82" y2="742.40" stroke="#111" stroke-width="1.7" />
<line x1="437.52" y1="770.20" x2="450.82" y2="770.20" stroke="#111" stroke-width="1.7" />
<rect x="437.37" y="749.50" width="13.6" height="13.6" fill="#bdbdbf" stroke="#333" stroke-width="1.9"/>
<rect x="358.7" y="528.5" width="124.9" height="67.6" rx="3.7" fill="#fff" stroke="#111" stroke-width="1.8"/>
<circle cx="376.00" cy="547.50" r="8.1" fill="#fff" stroke="#111" stroke-width="1.7"/>
<rect x="368.25" y="569.05" width="15.5" height="15.5" fill="#bdbdbf" stroke="#333" stroke-width="1.9"/>
<text x="479.80" y="556.30" font-size="28" text-anchor="end" font-weight="normal" fill="#111" >1.6 µM</text>
<text x="479.80" y="585.30" font-size="28" text-anchor="end" font-weight="normal" fill="#111" >0.2 µM</text>
<line x1="707.10" y1="616.10" x2="707.10" y2="640.70" stroke="#111" stroke-width="1.8" />
<line x1="707.10" y1="676.80" x2="707.10" y2="726.60" stroke="#111" stroke-width="1.8" />
<line x1="698.60" y1="616.10" x2="715.60" y2="616.10" stroke="#111" stroke-width="1.8" />
<line x1="698.60" y1="726.60" x2="715.60" y2="726.60" stroke="#111" stroke-width="1.8" />
<rect x="693.85" y="640.70" width="26.5" height="36.10" fill="#fff" stroke="#231f20" stroke-width="2"/>
<line x1="693.85" y1="656.10" x2="720.35" y2="656.10" stroke="#231f20" stroke-width="2" />
<line x1="740.10" y1="567.00" x2="740.10" y2="610.60" stroke="#111" stroke-width="1.8" />
<line x1="740.10" y1="650.20" x2="740.10" y2="676.00" stroke="#111" stroke-width="1.8" />
<line x1="731.60" y1="567.00" x2="748.60" y2="567.00" stroke="#111" stroke-width="1.8" />
<line x1="731.60" y1="676.00" x2="748.60" y2="676.00" stroke="#111" stroke-width="1.8" />
<rect x="726.85" y="610.60" width="26.5" height="39.60" fill="#bebec0" stroke="#231f20" stroke-width="2"/>
<line x1="726.85" y1="627.10" x2="753.35" y2="627.10" stroke="#231f20" stroke-width="2" />
<line x1="816.90" y1="606.20" x2="816.90" y2="626.60" stroke="#111" stroke-width="1.8" />
<line x1="816.90" y1="665.00" x2="816.90" y2="693.40" stroke="#111" stroke-width="1.8" />
<line x1="808.40" y1="606.20" x2="825.40" y2="606.20" stroke="#111" stroke-width="1.8" />
<line x1="808.40" y1="693.40" x2="825.40" y2="693.40" stroke="#111" stroke-width="1.8" />
<rect x="803.65" y="626.60" width="26.5" height="38.40" fill="#fff" stroke="#231f20" stroke-width="2"/>
<line x1="803.65" y1="649.50" x2="830.15" y2="649.50" stroke="#231f20" stroke-width="2" />
<line x1="849.90" y1="563.70" x2="849.90" y2="613.20" stroke="#111" stroke-width="1.8" />
<line x1="849.90" y1="655.00" x2="849.90" y2="688.30" stroke="#111" stroke-width="1.8" />
<line x1="841.40" y1="563.70" x2="858.40" y2="563.70" stroke="#111" stroke-width="1.8" />
<line x1="841.40" y1="688.30" x2="858.40" y2="688.30" stroke="#111" stroke-width="1.8" />
<rect x="836.65" y="613.20" width="26.5" height="41.80" fill="#bebec0" stroke="#231f20" stroke-width="2"/>
<line x1="836.65" y1="626.60" x2="863.15" y2="626.60" stroke="#231f20" stroke-width="2" />
<line x1="926.60" y1="585.70" x2="926.60" y2="603.50" stroke="#111" stroke-width="1.8" />
<line x1="926.60" y1="649.90" x2="926.60" y2="700.90" stroke="#111" stroke-width="1.8" />
<line x1="918.10" y1="585.70" x2="935.10" y2="585.70" stroke="#111" stroke-width="1.8" />
<line x1="918.10" y1="700.90" x2="935.10" y2="700.90" stroke="#111" stroke-width="1.8" />
<rect x="913.35" y="603.50" width="26.5" height="46.40" fill="#fff" stroke="#231f20" stroke-width="2"/>
<line x1="913.35" y1="630.90" x2="939.85" y2="630.90" stroke="#231f20" stroke-width="2" />
<line x1="959.70" y1="581.60" x2="959.70" y2="611.00" stroke="#111" stroke-width="1.8" />
<line x1="959.70" y1="644.80" x2="959.70" y2="680.50" stroke="#111" stroke-width="1.8" />
<line x1="951.20" y1="581.60" x2="968.20" y2="581.60" stroke="#111" stroke-width="1.8" />
<line x1="951.20" y1="680.50" x2="968.20" y2="680.50" stroke="#111" stroke-width="1.8" />
<rect x="946.45" y="611.00" width="26.5" height="33.80" fill="#bebec0" stroke="#231f20" stroke-width="2"/>
<line x1="946.45" y1="623.20" x2="972.95" y2="623.20" stroke="#231f20" stroke-width="2" />
<rect x="676.4" y="773.7" width="134.8" height="70.9" rx="3.7" fill="#fff" stroke="#111" stroke-width="1.8"/>
<rect x="684.8" y="782.9" width="26.9" height="18.2" fill="#fff" stroke="#3a3a3a" stroke-width="1.8"/>
<rect x="684.8" y="817.3" width="26.9" height="18.4" fill="#bebec0" stroke="#3a3a3a" stroke-width="1.8"/>
<text x="805.60" y="803.10" font-size="28" text-anchor="end" font-weight="normal" fill="#111" >5 min</text>
<text x="805.60" y="838.10" font-size="28" text-anchor="end" font-weight="normal" fill="#111" >30 min</text>
<circle cx="246.6" cy="66.4" r="5.65" fill="#ff8000" stroke="#111" stroke-width="1.75"/>
<circle cx="239.4" cy="103.8" r="5.65" fill="#ff8000" stroke="#111" stroke-width="1.75"/>
<circle cx="241.8" cy="117" r="5.65" fill="#ff8000" stroke="#111" stroke-width="1.75"/>
<circle cx="248.2" cy="125" r="5.65" fill="#ff8000" stroke="#111" stroke-width="1.75"/>
<circle cx="285.5" cy="88.2" r="5.65" fill="#ff8000" stroke="#111" stroke-width="1.75"/>
<circle cx="293" cy="104.2" r="5.65" fill="#ff8000" stroke="#111" stroke-width="1.75"/>
<circle cx="287.9" cy="119.4" r="5.65" fill="#ff8000" stroke="#111" stroke-width="1.75"/>
<circle cx="291.4" cy="58.4" r="5.65" fill="#ff8000" stroke="#111" stroke-width="1.75"/>
<circle cx="288.2" cy="61.6" r="5.65" fill="#ff8000" stroke="#111" stroke-width="1.75"/>
<circle cx="301" cy="64.8" r="5.65" fill="#ff8000" stroke="#111" stroke-width="1.75"/>
<circle cx="303.4" cy="72.8" r="5.65" fill="#ff8000" stroke="#111" stroke-width="1.75"/>
<circle cx="329.8" cy="67.2" r="5.65" fill="#ff8000" stroke="#111" stroke-width="1.75"/>
<circle cx="350.7" cy="71.2" r="5.65" fill="#ff8000" stroke="#111" stroke-width="1.75"/>
<circle cx="337.8" cy="76.4" r="5.65" fill="#ff8000" stroke="#111" stroke-width="1.75"/>
<circle cx="354.7" cy="76" r="5.65" fill="#ff8000" stroke="#111" stroke-width="1.75"/>
<circle cx="315.8" cy="83.6" r="5.65" fill="#ff8000" stroke="#111" stroke-width="1.75"/>
<circle cx="328.2" cy="88" r="5.65" fill="#ff8000" stroke="#111" stroke-width="1.75"/>
<circle cx="314.6" cy="97" r="5.65" fill="#ff8000" stroke="#111" stroke-width="1.75"/>
<circle cx="323.4" cy="95.4" r="5.65" fill="#ff8000" stroke="#111" stroke-width="1.75"/>
<circle cx="345.8" cy="93.8" r="5.65" fill="#ff8000" stroke="#111" stroke-width="1.75"/>
<circle cx="355.5" cy="95.4" r="5.65" fill="#ff8000" stroke="#111" stroke-width="1.75"/>
<circle cx="340.2" cy="99.4" r="5.65" fill="#ff8000" stroke="#111" stroke-width="1.75"/>
<circle cx="343.4" cy="105.8" r="5.65" fill="#ff8000" stroke="#111" stroke-width="1.75"/>
<circle cx="362.3" cy="104.2" r="5.65" fill="#ff8000" stroke="#111" stroke-width="1.75"/>
<circle cx="331" cy="106.6" r="5.65" fill="#ff8000" stroke="#111" stroke-width="1.75"/>
<circle cx="317" cy="112.2" r="5.65" fill="#ff8000" stroke="#111" stroke-width="1.75"/>
<circle cx="384.2" cy="73.2" r="5.65" fill="#ff8000" stroke="#111" stroke-width="1.75"/>
<circle cx="375.4" cy="76" r="5.65" fill="#ff8000" stroke="#111" stroke-width="1.75"/>
<circle cx="367.8" cy="82.4" r="5.65" fill="#ff8000" stroke="#111" stroke-width="1.75"/>
<circle cx="386.2" cy="80.8" r="5.65" fill="#ff8000" stroke="#111" stroke-width="1.75"/>
<circle cx="418.2" cy="76.8" r="5.65" fill="#ff8000" stroke="#111" stroke-width="1.75"/>
<circle cx="430.3" cy="91.2" r="5.65" fill="#ff8000" stroke="#111" stroke-width="1.75"/>
<circle cx="375.4" cy="101.8" r="5.65" fill="#ff8000" stroke="#111" stroke-width="1.75"/>
<circle cx="379" cy="111.4" r="5.65" fill="#ff8000" stroke="#111" stroke-width="1.75"/>
<circle cx="391.8" cy="99.8" r="5.65" fill="#ff8000" stroke="#111" stroke-width="1.75"/>
<circle cx="394.2" cy="94.6" r="5.65" fill="#ff8000" stroke="#111" stroke-width="1.75"/>
<circle cx="430.3" cy="99.4" r="5.65" fill="#ff8000" stroke="#111" stroke-width="1.75"/>
<circle cx="236.6" cy="54.0" r="5.65" fill="#ff8000" stroke="#111" stroke-width="1.75"/>
<circle cx="249.3" cy="52.4" r="5.65" fill="#ff8000" stroke="#111" stroke-width="1.75"/>
<circle cx="234.6" cy="62.4" r="5.65" fill="#ff8000" stroke="#111" stroke-width="1.75"/>
<circle cx="235.8" cy="69.6" r="5.65" fill="#ff8000" stroke="#111" stroke-width="1.75"/>
<circle cx="245.3" cy="70.3" r="5.65" fill="#ff8000" stroke="#111" stroke-width="1.75"/>
<circle cx="243.4" cy="82.4" r="5.65" fill="#ff8000" stroke="#111" stroke-width="1.75"/>
<circle cx="250.6" cy="82.4" r="5.65" fill="#ff8000" stroke="#111" stroke-width="1.75"/>
<circle cx="284.0" cy="48.8" r="5.65" fill="#ff8000" stroke="#111" stroke-width="1.75"/>
<circle cx="289.1" cy="79.2" r="5.65" fill="#ff8000" stroke="#111" stroke-width="1.75"/>
<circle cx="247.8" cy="93.4" r="5.65" fill="#ff8000" stroke="#111" stroke-width="1.75"/>
<circle cx="252.6" cy="99.8" r="5.65" fill="#ff8000" stroke="#111" stroke-width="1.75"/>
<circle cx="241.8" cy="98.2" r="5.65" fill="#ff8000" stroke="#111" stroke-width="1.75"/>
<circle cx="246.2" cy="116.2" r="5.65" fill="#ff8000" stroke="#111" stroke-width="1.75"/>
<circle cx="277" cy="92.2" r="5.65" fill="#ff8000" stroke="#111" stroke-width="1.75"/>
<circle cx="283.5" cy="108.6" r="5.65" fill="#ff8000" stroke="#111" stroke-width="1.75"/>
<circle cx="294.5" cy="112.4" r="5.65" fill="#ff8000" stroke="#111" stroke-width="1.75"/>
<circle cx="280.7" cy="121" r="5.65" fill="#ff8000" stroke="#111" stroke-width="1.75"/>
<circle cx="288.2" cy="128.6" r="5.65" fill="#ff8000" stroke="#111" stroke-width="1.75"/>
<circle cx="316.5" cy="49.6" r="5.65" fill="#ff8000" stroke="#111" stroke-width="1.75"/>
<circle cx="293.8" cy="65.6" r="5.65" fill="#ff8000" stroke="#111" stroke-width="1.75"/>
<circle cx="306.6" cy="73.2" r="5.65" fill="#ff8000" stroke="#111" stroke-width="1.75"/>
<circle cx="316.2" cy="72" r="5.65" fill="#ff8000" stroke="#111" stroke-width="1.75"/>
<circle cx="326.6" cy="68" r="5.65" fill="#ff8000" stroke="#111" stroke-width="1.75"/>
<circle cx="344.6" cy="62" r="5.65" fill="#ff8000" stroke="#111" stroke-width="1.75"/>
<circle cx="342.2" cy="76.8" r="5.65" fill="#ff8000" stroke="#111" stroke-width="1.75"/>
<circle cx="359.9" cy="76.4" r="5.65" fill="#ff8000" stroke="#111" stroke-width="1.75"/>
<circle cx="314.6" cy="90.8" r="5.65" fill="#ff8000" stroke="#111" stroke-width="1.75"/>
<circle cx="336.6" cy="89.6" r="5.65" fill="#ff8000" stroke="#111" stroke-width="1.75"/>
<circle cx="351.5" cy="86.4" r="5.65" fill="#ff8000" stroke="#111" stroke-width="1.75"/>
<circle cx="361.9" cy="89.6" r="5.65" fill="#ff8000" stroke="#111" stroke-width="1.75"/>
<circle cx="350.7" cy="103" r="5.65" fill="#ff8000" stroke="#111" stroke-width="1.75"/>
<circle cx="358.7" cy="111.8" r="5.65" fill="#ff8000" stroke="#111" stroke-width="1.75"/>
<circle cx="343.4" cy="115.4" r="5.65" fill="#ff8000" stroke="#111" stroke-width="1.75"/>
<circle cx="325.4" cy="111.8" r="5.65" fill="#ff8000" stroke="#111" stroke-width="1.75"/>
<circle cx="301.4" cy="123" r="5.65" fill="#ff8000" stroke="#111" stroke-width="1.75"/>
<circle cx="371" cy="65.6" r="5.65" fill="#ff8000" stroke="#111" stroke-width="1.75"/>
<circle cx="374.2" cy="83.6" r="5.65" fill="#ff8000" stroke="#111" stroke-width="1.75"/>
<circle cx="382.2" cy="88" r="5.65" fill="#ff8000" stroke="#111" stroke-width="1.75"/>
<circle cx="397.4" cy="85.2" r="5.65" fill="#ff8000" stroke="#111" stroke-width="1.75"/>
<circle cx="407.8" cy="89.2" r="5.65" fill="#ff8000" stroke="#111" stroke-width="1.75"/>
<circle cx="417" cy="78.4" r="5.65" fill="#ff8000" stroke="#111" stroke-width="1.75"/>
<circle cx="369" cy="117" r="5.65" fill="#ff8000" stroke="#111" stroke-width="1.75"/>
<circle cx="381.8" cy="101" r="5.65" fill="#ff8000" stroke="#111" stroke-width="1.75"/>
<circle cx="384.6" cy="109.4" r="5.65" fill="#ff8000" stroke="#111" stroke-width="1.75"/>
<circle cx="398.6" cy="103.8" r="5.65" fill="#ff8000" stroke="#111" stroke-width="1.75"/>
<circle cx="391.8" cy="118.6" r="5.65" fill="#ff8000" stroke="#111" stroke-width="1.75"/>
<circle cx="389" cy="127" r="5.65" fill="#ff8000" stroke="#111" stroke-width="1.75"/>
<circle cx="404.2" cy="115.4" r="5.65" fill="#ff8000" stroke="#111" stroke-width="1.75"/>
<circle cx="409" cy="100.2" r="5.65" fill="#ff8000" stroke="#111" stroke-width="1.75"/>
<circle cx="415.8" cy="111" r="5.65" fill="#ff8000" stroke="#111" stroke-width="1.75"/>
<circle cx="418.2" cy="94.6" r="5.65" fill="#ff8000" stroke="#111" stroke-width="1.75"/>
<circle cx="422.3" cy="103.4" r="5.65" fill="#ff8000" stroke="#111" stroke-width="1.75"/>
<circle cx="415.8" cy="126.2" r="5.65" fill="#ff8000" stroke="#111" stroke-width="1.75"/>
<circle cx="436" cy="94.5" r="5.65" fill="#ff8000" stroke="#111" stroke-width="1.75"/>
<circle cx="440.5" cy="107.6" r="5.65" fill="#ff8000" stroke="#111" stroke-width="1.75"/>
<circle cx="453.6" cy="120" r="5.65" fill="#ff8000" stroke="#111" stroke-width="1.75"/>
<circle cx="247" cy="242.2" r="5.65" fill="#e31e24" stroke="#111" stroke-width="1.75"/>
<circle cx="241.4" cy="244.2" r="5.65" fill="#e31e24" stroke="#111" stroke-width="1.75"/>
<circle cx="239" cy="250.2" r="5.65" fill="#e31e24" stroke="#111" stroke-width="1.75"/>
<circle cx="248.6" cy="255" r="5.65" fill="#e31e24" stroke="#111" stroke-width="1.75"/>
<circle cx="251.8" cy="259.8" r="5.65" fill="#e31e24" stroke="#111" stroke-width="1.75"/>
<circle cx="248.6" cy="267.8" r="5.65" fill="#e31e24" stroke="#111" stroke-width="1.75"/>
<circle cx="287.5" cy="254.6" r="5.65" fill="#e31e24" stroke="#111" stroke-width="1.75"/>
<circle cx="273.4" cy="264.6" r="5.65" fill="#e31e24" stroke="#111" stroke-width="1.75"/>
<circle cx="283.9" cy="264.6" r="5.65" fill="#e31e24" stroke="#111" stroke-width="1.75"/>
<circle cx="291.9" cy="258.2" r="5.65" fill="#e31e24" stroke="#111" stroke-width="1.75"/>
<circle cx="287" cy="278" r="5.65" fill="#e31e24" stroke="#111" stroke-width="1.75"/>
<circle cx="287" cy="288.4" r="5.65" fill="#e31e24" stroke="#111" stroke-width="1.75"/>
<circle cx="291.9" cy="268.4" r="5.65" fill="#e31e24" stroke="#111" stroke-width="1.75"/>
<circle cx="302.2" cy="231.4" r="5.65" fill="#e31e24" stroke="#111" stroke-width="1.75"/>
<circle cx="309.8" cy="255" r="5.65" fill="#e31e24" stroke="#111" stroke-width="1.75"/>
<circle cx="296.2" cy="259.8" r="5.65" fill="#e31e24" stroke="#111" stroke-width="1.75"/>
<circle cx="289.8" cy="267" r="5.65" fill="#e31e24" stroke="#111" stroke-width="1.75"/>
<circle cx="328.2" cy="249.4" r="5.65" fill="#e31e24" stroke="#111" stroke-width="1.75"/>
<circle cx="341" cy="249.4" r="5.65" fill="#e31e24" stroke="#111" stroke-width="1.75"/>
<circle cx="337" cy="253.4" r="5.65" fill="#e31e24" stroke="#111" stroke-width="1.75"/>
<circle cx="360.3" cy="258.2" r="5.65" fill="#e31e24" stroke="#111" stroke-width="1.75"/>
<circle cx="351" cy="270.5" r="5.65" fill="#e31e24" stroke="#111" stroke-width="1.75"/>
<circle cx="343.4" cy="272.4" r="5.65" fill="#e31e24" stroke="#111" stroke-width="1.75"/>
<circle cx="339.4" cy="285.2" r="5.65" fill="#e31e24" stroke="#111" stroke-width="1.75"/>
<circle cx="346.6" cy="294.8" r="5.65" fill="#e31e24" stroke="#111" stroke-width="1.75"/>
<circle cx="352.3" cy="285.2" r="5.65" fill="#e31e24" stroke="#111" stroke-width="1.75"/>
<circle cx="359.5" cy="282.8" r="5.65" fill="#e31e24" stroke="#111" stroke-width="1.75"/>
<circle cx="360.3" cy="295.6" r="5.65" fill="#e31e24" stroke="#111" stroke-width="1.75"/>
<circle cx="377" cy="256.6" r="5.65" fill="#e31e24" stroke="#111" stroke-width="1.75"/>
<circle cx="385.4" cy="256.6" r="5.65" fill="#e31e24" stroke="#111" stroke-width="1.75"/>
<circle cx="395.4" cy="252.2" r="5.65" fill="#e31e24" stroke="#111" stroke-width="1.75"/>
<circle cx="430.3" cy="264.6" r="5.65" fill="#e31e24" stroke="#111" stroke-width="1.75"/>
<circle cx="387" cy="268.5" r="5.65" fill="#e31e24" stroke="#111" stroke-width="1.75"/>
<circle cx="397.8" cy="270" r="5.65" fill="#e31e24" stroke="#111" stroke-width="1.75"/>
<circle cx="375" cy="278" r="5.65" fill="#e31e24" stroke="#111" stroke-width="1.75"/>
<circle cx="369.4" cy="281.2" r="5.65" fill="#e31e24" stroke="#111" stroke-width="1.75"/>
<circle cx="381.4" cy="278" r="5.65" fill="#e31e24" stroke="#111" stroke-width="1.75"/>
<circle cx="383.8" cy="285.2" r="5.65" fill="#e31e24" stroke="#111" stroke-width="1.75"/>
<circle cx="389.4" cy="291.6" r="5.65" fill="#e31e24" stroke="#111" stroke-width="1.75"/>
<circle cx="379.8" cy="294.8" r="5.65" fill="#e31e24" stroke="#111" stroke-width="1.75"/>
<circle cx="411.4" cy="283.6" r="5.65" fill="#e31e24" stroke="#111" stroke-width="1.75"/>
<circle cx="411.8" cy="302" r="5.65" fill="#e31e24" stroke="#111" stroke-width="1.75"/>
<circle cx="399.8" cy="301.2" r="5.65" fill="#e31e24" stroke="#111" stroke-width="1.75"/>
<circle cx="407" cy="292.4" r="5.65" fill="#e31e24" stroke="#111" stroke-width="1.75"/>
<circle cx="393.4" cy="306.8" r="5.65" fill="#e31e24" stroke="#111" stroke-width="1.75"/>
<circle cx="271.4" cy="224.6" r="5.65" fill="#e31e24" stroke="#111" stroke-width="1.75"/>
<circle cx="242.6" cy="246.2" r="5.65" fill="#e31e24" stroke="#111" stroke-width="1.75"/>
<circle cx="235.4" cy="261" r="5.65" fill="#e31e24" stroke="#111" stroke-width="1.75"/>
<circle cx="247" cy="260.6" r="5.65" fill="#e31e24" stroke="#111" stroke-width="1.75"/>
<circle cx="229" cy="274" r="5.65" fill="#e31e24" stroke="#111" stroke-width="1.75"/>
<circle cx="283.9" cy="247" r="5.65" fill="#e31e24" stroke="#111" stroke-width="1.75"/>
<circle cx="276.6" cy="267.8" r="5.65" fill="#e31e24" stroke="#111" stroke-width="1.75"/>
<circle cx="247" cy="280.4" r="5.65" fill="#e31e24" stroke="#111" stroke-width="1.75"/>
<circle cx="285.5" cy="294" r="5.65" fill="#e31e24" stroke="#111" stroke-width="1.75"/>
<circle cx="298.2" cy="234.2" r="5.65" fill="#e31e24" stroke="#111" stroke-width="1.75"/>
<circle cx="307.8" cy="239" r="5.65" fill="#e31e24" stroke="#111" stroke-width="1.75"/>
<circle cx="301.8" cy="251.8" r="5.65" fill="#e31e24" stroke="#111" stroke-width="1.75"/>
<circle cx="317" cy="259.4" r="5.65" fill="#e31e24" stroke="#111" stroke-width="1.75"/>
<circle cx="305.8" cy="262.6" r="5.65" fill="#e31e24" stroke="#111" stroke-width="1.75"/>
<circle cx="297.8" cy="267" r="5.65" fill="#e31e24" stroke="#111" stroke-width="1.75"/>
<circle cx="329.8" cy="246.2" r="5.65" fill="#e31e24" stroke="#111" stroke-width="1.75"/>
<circle cx="345" cy="256.2" r="5.65" fill="#e31e24" stroke="#111" stroke-width="1.75"/>
<circle cx="357.1" cy="241.4" r="5.65" fill="#e31e24" stroke="#111" stroke-width="1.75"/>
<circle cx="334.6" cy="267.8" r="5.65" fill="#e31e24" stroke="#111" stroke-width="1.75"/>
<circle cx="297.4" cy="281.6" r="5.65" fill="#e31e24" stroke="#111" stroke-width="1.75"/>
<circle cx="320.2" cy="272" r="5.65" fill="#e31e24" stroke="#111" stroke-width="1.75"/>
<circle cx="321" cy="282.8" r="5.65" fill="#e31e24" stroke="#111" stroke-width="1.75"/>
<circle cx="324.2" cy="291.2" r="5.65" fill="#e31e24" stroke="#111" stroke-width="1.75"/>
<circle cx="338.2" cy="276.8" r="5.65" fill="#e31e24" stroke="#111" stroke-width="1.75"/>
<circle cx="337.8" cy="294.8" r="5.65" fill="#e31e24" stroke="#111" stroke-width="1.75"/>
<circle cx="341.8" cy="307.2" r="5.65" fill="#e31e24" stroke="#111" stroke-width="1.75"/>
<circle cx="353" cy="277.6" r="5.65" fill="#e31e24" stroke="#111" stroke-width="1.75"/>
<circle cx="359.5" cy="302.8" r="5.65" fill="#e31e24" stroke="#111" stroke-width="1.75"/>
<circle cx="367" cy="245.4" r="5.65" fill="#e31e24" stroke="#111" stroke-width="1.75"/>
<circle cx="377" cy="243.4" r="5.65" fill="#e31e24" stroke="#111" stroke-width="1.75"/>
<circle cx="366.2" cy="261" r="5.65" fill="#e31e24" stroke="#111" stroke-width="1.75"/>
<circle cx="402.2" cy="245" r="5.65" fill="#e31e24" stroke="#111" stroke-width="1.75"/>
<circle cx="414.2" cy="250.2" r="5.65" fill="#e31e24" stroke="#111" stroke-width="1.75"/>
<circle cx="394.2" cy="260.6" r="5.65" fill="#e31e24" stroke="#111" stroke-width="1.75"/>
<circle cx="418.2" cy="263.8" r="5.65" fill="#e31e24" stroke="#111" stroke-width="1.75"/>
<circle cx="434.5" cy="271.6" r="5.65" fill="#e31e24" stroke="#111" stroke-width="1.75"/>
<circle cx="391" cy="275.2" r="5.65" fill="#e31e24" stroke="#111" stroke-width="1.75"/>
<circle cx="390.2" cy="286" r="5.65" fill="#e31e24" stroke="#111" stroke-width="1.75"/>
<circle cx="372.6" cy="292" r="5.65" fill="#e31e24" stroke="#111" stroke-width="1.75"/>
<circle cx="382.6" cy="303.6" r="5.65" fill="#e31e24" stroke="#111" stroke-width="1.75"/>
<circle cx="413.8" cy="275.2" r="5.65" fill="#e31e24" stroke="#111" stroke-width="1.75"/>
<circle cx="405.8" cy="283.2" r="5.65" fill="#e31e24" stroke="#111" stroke-width="1.75"/>
<circle cx="416.6" cy="292.4" r="5.65" fill="#e31e24" stroke="#111" stroke-width="1.75"/>
<circle cx="425.5" cy="293.6" r="5.65" fill="#e31e24" stroke="#111" stroke-width="1.75"/>
<circle cx="404.6" cy="301.2" r="5.65" fill="#e31e24" stroke="#111" stroke-width="1.75"/>
<circle cx="398.2" cy="312.4" r="5.65" fill="#e31e24" stroke="#111" stroke-width="1.75"/>
<circle cx="396.6" cy="318.8" r="5.65" fill="#e31e24" stroke="#111" stroke-width="1.75"/>
<circle cx="416.6" cy="311.6" r="5.65" fill="#e31e24" stroke="#111" stroke-width="1.75"/>
<circle cx="414.2" cy="318" r="5.65" fill="#e31e24" stroke="#111" stroke-width="1.75"/>
<circle cx="448.4" cy="279.6" r="5.65" fill="#e31e24" stroke="#111" stroke-width="1.75"/>
<circle cx="442.5" cy="284.5" r="5.65" fill="#e31e24" stroke="#111" stroke-width="1.75"/>
<rect x="491.30" y="48.30" width="10.30" height="8.80" fill="#ff8000" stroke="#7d8088" stroke-width="1.2"/>
<rect x="491.30" y="57.10" width="12.40" height="8.60" fill="#ff8000" stroke="#7d8088" stroke-width="1.2"/>
<rect x="491.30" y="65.70" width="27.40" height="8.60" fill="#ff8000" stroke="#7d8088" stroke-width="1.2"/>
<rect x="491.30" y="74.30" width="39.20" height="8.50" fill="#ff8000" stroke="#7d8088" stroke-width="1.2"/>
<rect x="491.30" y="82.80" width="43.50" height="8.40" fill="#ff8000" stroke="#7d8088" stroke-width="1.2"/>
<rect x="491.30" y="91.20" width="50.40" height="8.50" fill="#ff8000" stroke="#7d8088" stroke-width="1.2"/>
<rect x="491.30" y="99.70" width="49.40" height="8.60" fill="#ff8000" stroke="#7d8088" stroke-width="1.2"/>
<rect x="491.30" y="108.30" width="34.40" height="8.50" fill="#ff8000" stroke="#7d8088" stroke-width="1.2"/>
<rect x="491.30" y="116.80" width="17.20" height="8.80" fill="#ff8000" stroke="#7d8088" stroke-width="1.2"/>
<rect x="491.30" y="125.60" width="7.60" height="8.60" fill="#ff8000" stroke="#7d8088" stroke-width="1.2"/>
<rect x="491.30" y="224.00" width="2.80" height="8.54" fill="#e31e24" stroke="#7d8088" stroke-width="1.2"/>
<rect x="491.30" y="232.54" width="11.10" height="8.54" fill="#e31e24" stroke="#7d8088" stroke-width="1.2"/>
<rect x="491.30" y="241.08" width="29.80" height="8.54" fill="#e31e24" stroke="#7d8088" stroke-width="1.2"/>
<rect x="491.30" y="249.62" width="44.90" height="8.54" fill="#e31e24" stroke="#7d8088" stroke-width="1.2"/>
<rect x="491.30" y="258.16" width="47.30" height="8.54" fill="#e31e24" stroke="#7d8088" stroke-width="1.2"/>
<rect x="491.30" y="266.70" width="41.70" height="8.54" fill="#e31e24" stroke="#7d8088" stroke-width="1.2"/>
<rect x="491.30" y="275.24" width="61.90" height="8.54" fill="#e31e24" stroke="#7d8088" stroke-width="1.2"/>
<rect x="491.30" y="283.78" width="44.70" height="8.54" fill="#e31e24" stroke="#7d8088" stroke-width="1.2"/>
<rect x="491.30" y="292.32" width="29.70" height="8.54" fill="#e31e24" stroke="#7d8088" stroke-width="1.2"/>
<rect x="491.30" y="300.86" width="23.70" height="8.54" fill="#e31e24" stroke="#7d8088" stroke-width="1.2"/>
<rect x="491.30" y="309.40" width="8.70" height="8.54" fill="#e31e24" stroke="#7d8088" stroke-width="1.2"/>
<rect x="491.30" y="317.94" width="1.90" height="8.54" fill="#e31e24" stroke="#7d8088" stroke-width="1.2"/>
<line x1="491.30" y1="40.10" x2="491.30" y2="194.00" stroke="#111" stroke-width="1.9" />
<line x1="491.30" y1="215.90" x2="491.30" y2="369.60" stroke="#111" stroke-width="1.9" />
<path d="M492.26,40.10 L492.34,40.61 L492.42,41.13 L492.51,41.64 L492.61,42.15 L492.71,42.66 L492.82,43.18 L492.93,43.69 L493.06,44.20 L493.19,44.72 L493.33,45.23 L493.48,45.74 L493.64,46.26 L493.80,46.77 L493.98,47.28 L494.17,47.80 L494.37,48.31 L494.58,48.82 L494.80,49.33 L495.03,49.85 L495.28,50.36 L495.54,50.87 L495.81,51.39 L496.10,51.90 L496.40,52.41 L496.71,52.92 L497.04,53.44 L497.39,53.95 L497.75,54.46 L498.13,54.98 L498.52,55.49 L498.93,56.00 L499.36,56.52 L499.81,57.03 L500.27,57.54 L500.75,58.05 L501.25,58.57 L501.77,59.08 L502.31,59.59 L502.87,60.11 L503.44,60.62 L504.03,61.13 L504.65,61.65 L505.28,62.16 L505.93,62.67 L506.59,63.19 L507.28,63.70 L507.98,64.21 L508.70,64.72 L509.44,65.24 L510.20,65.75 L510.97,66.26 L511.75,66.78 L512.56,67.29 L513.37,67.80 L514.20,68.31 L515.05,68.83 L515.90,69.34 L516.77,69.85 L517.65,70.37 L518.53,70.88 L519.43,71.39 L520.33,71.91 L521.24,72.42 L522.15,72.93 L523.07,73.44 L523.98,73.96 L524.90,74.47 L525.82,74.98 L526.73,75.50 L527.65,76.01 L528.55,76.52 L529.45,77.04 L530.34,77.55 L531.22,78.06 L532.09,78.58 L532.95,79.09 L533.79,79.60 L534.62,80.11 L535.43,80.63 L536.22,81.14 L536.98,81.65 L537.73,82.17 L538.45,82.68 L539.14,83.19 L539.81,83.70 L540.45,84.22 L541.06,84.73 L541.64,85.24 L542.19,85.76 L542.70,86.27 L543.18,86.78 L543.62,87.30 L544.02,87.81 L544.39,88.32 L544.72,88.84 L545.01,89.35 L545.26,89.86 L545.47,90.37 L545.64,90.89 L545.77,91.40 L545.85,91.91 L545.89,92.43 L545.90,92.94 L545.85,93.45 L545.77,93.97 L545.65,94.48 L545.48,94.99 L545.28,95.50 L545.03,96.02 L544.74,96.53 L544.42,97.04 L544.05,97.56 L543.65,98.07 L543.21,98.58 L542.73,99.09 L542.22,99.61 L541.68,100.12 L541.10,100.63 L540.50,101.15 L539.86,101.66 L539.19,102.17 L538.50,102.69 L537.78,103.20 L537.04,103.71 L536.27,104.22 L535.48,104.74 L534.68,105.25 L533.85,105.76 L533.01,106.28 L532.15,106.79 L531.28,107.30 L530.40,107.82 L529.51,108.33 L528.61,108.84 L527.71,109.35 L526.80,109.87 L525.88,110.38 L524.96,110.89 L524.05,111.41 L523.13,111.92 L522.21,112.43 L521.30,112.95 L520.39,113.46 L519.49,113.97 L518.59,114.49 L517.71,115.00 L516.83,115.51 L515.96,116.02 L515.11,116.54 L514.26,117.05 L513.43,117.56 L512.61,118.08 L511.81,118.59 L511.02,119.10 L510.25,119.62 L509.49,120.13 L508.75,120.64 L508.03,121.15 L507.33,121.67 L506.64,122.18 L505.97,122.69 L505.32,123.21 L504.69,123.72 L504.07,124.23 L503.48,124.75 L502.90,125.26 L502.35,125.77 L501.81,126.28 L501.29,126.80 L500.79,127.31 L500.31,127.82 L499.84,128.34 L499.39,128.85 L498.96,129.36 L498.55,129.88 L498.15,130.39 L497.78,130.90 L497.41,131.41 L497.07,131.93 L496.73,132.44 L496.42,132.95 L496.12,133.47 L495.83,133.98 L495.56,134.49 L495.30,135.00 L495.05,135.52 L494.82,136.03 L494.59,136.54 L494.38,137.06 L494.18,137.57 L493.99,138.08 L493.82,138.60 L493.65,139.11 L493.49,139.62 L493.34,140.13 L493.20,140.65 L493.07,141.16 L492.94,141.67 L492.83,142.19 L492.72,142.70 L492.61,143.21 L492.52,143.73 L492.43,144.24 L492.34,144.75 L492.26,145.27 L492.19,145.78 L492.12,146.29 L492.06,146.80 L492.00,147.32 L491.94,147.83 L491.89,148.34 L491.84,148.86 L491.80,149.37 L491.76,149.88 L491.72,150.40 L491.69,150.91 L491.65,151.42 L491.62,151.93 L491.60,152.45 L491.57,152.96 L491.55,153.47 L491.53,153.99 L491.51,154.50 L491.49,155.01 L491.47,155.53 L491.46,156.04 L491.44,156.55 L491.43,157.06 L491.42,157.58 L491.41,158.09 L491.40,158.60 L491.39,159.12 L491.38,159.63 L491.37,160.14 L491.36,160.66 L491.36,161.17 L491.35,161.68 L491.35,162.19 L491.34,162.71 L491.34,163.22 L491.33,163.73 L491.33,164.25 L491.33,164.76 L491.32,165.27 L491.32,165.78 L491.32,166.30 L491.32,166.81 L491.32,167.32 L491.31,167.84 L491.31,168.35 L491.31,168.86 L491.31,169.38 L491.31,169.89 L491.31,170.40 L491.31,170.91 L491.31,171.43 L491.31,171.94 L491.31,172.45 L491.30,172.97 L491.30,173.48 L491.30,173.99 L491.30,174.51 L491.30,175.02 L491.30,175.53 L491.30,176.04 L491.30,176.56 L491.30,177.07 L491.30,177.58 L491.30,178.10 L491.30,178.61 L491.30,179.12 L491.30,179.64 L491.30,180.15 L491.30,180.66 L491.30,181.17 L491.30,181.69 L491.30,182.20 L491.30,182.71 L491.30,183.23 L491.30,183.74 L491.30,184.25 L491.30,184.77 L491.30,185.28 L491.30,185.79 L491.30,186.31 L491.30,186.82 L491.30,187.33 L491.30,187.84 L491.30,188.36 L491.30,188.87 L491.30,189.38 L491.30,189.90 L491.30,190.41 L491.30,190.92 L491.30,191.44 L491.30,191.95 L491.30,192.46 L491.30,192.97 L491.30,193.49 L491.30,194.00" fill="none" stroke="#111" stroke-width="2.9"/>
<path d="M493.19,215.90 L493.31,216.41 L493.44,216.92 L493.57,217.44 L493.70,217.95 L493.85,218.46 L494.00,218.97 L494.15,219.49 L494.32,220.00 L494.49,220.51 L494.68,221.02 L494.87,221.54 L495.06,222.05 L495.27,222.56 L495.49,223.07 L495.71,223.59 L495.95,224.10 L496.20,224.61 L496.45,225.12 L496.72,225.63 L496.99,226.15 L497.28,226.66 L497.58,227.17 L497.89,227.68 L498.21,228.20 L498.55,228.71 L498.89,229.22 L499.25,229.73 L499.62,230.25 L500.01,230.76 L500.40,231.27 L500.81,231.78 L501.23,232.29 L501.67,232.81 L502.11,233.32 L502.57,233.83 L503.05,234.34 L503.53,234.86 L504.04,235.37 L504.55,235.88 L505.08,236.39 L505.62,236.91 L506.17,237.42 L506.74,237.93 L507.32,238.44 L507.91,238.96 L508.51,239.47 L509.13,239.98 L509.76,240.49 L510.40,241.00 L511.05,241.52 L511.72,242.03 L512.39,242.54 L513.08,243.05 L513.77,243.57 L514.48,244.08 L515.19,244.59 L515.92,245.10 L516.65,245.62 L517.38,246.13 L518.13,246.64 L518.88,247.15 L519.64,247.66 L520.40,248.18 L521.17,248.69 L521.94,249.20 L522.71,249.71 L523.49,250.23 L524.26,250.74 L525.04,251.25 L525.82,251.76 L526.59,252.28 L527.36,252.79 L528.13,253.30 L528.90,253.81 L529.66,254.33 L530.42,254.84 L531.17,255.35 L531.91,255.86 L532.64,256.37 L533.36,256.89 L534.07,257.40 L534.77,257.91 L535.46,258.42 L536.14,258.94 L536.80,259.45 L537.44,259.96 L538.07,260.47 L538.68,260.99 L539.27,261.50 L539.85,262.01 L540.40,262.52 L540.94,263.03 L541.45,263.55 L541.94,264.06 L542.41,264.57 L542.85,265.08 L543.27,265.60 L543.67,266.11 L544.04,266.62 L544.38,267.13 L544.69,267.65 L544.98,268.16 L545.25,268.67 L545.48,269.18 L545.68,269.69 L545.86,270.21 L546.01,270.72 L546.12,271.23 L546.21,271.74 L546.27,272.26 L546.30,272.77 L546.30,273.28 L546.26,273.79 L546.20,274.31 L546.11,274.82 L545.99,275.33 L545.84,275.84 L545.66,276.36 L545.46,276.87 L545.22,277.38 L544.96,277.89 L544.67,278.40 L544.35,278.92 L544.00,279.43 L543.63,279.94 L543.23,280.45 L542.81,280.97 L542.36,281.48 L541.89,281.99 L541.40,282.50 L540.89,283.02 L540.35,283.53 L539.79,284.04 L539.22,284.55 L538.62,285.06 L538.01,285.58 L537.38,286.09 L536.73,286.60 L536.07,287.11 L535.39,287.63 L534.70,288.14 L534.00,288.65 L533.29,289.16 L532.57,289.68 L531.83,290.19 L531.09,290.70 L530.34,291.21 L529.59,291.73 L528.83,292.24 L528.06,292.75 L527.29,293.26 L526.52,293.77 L525.74,294.29 L524.96,294.80 L524.19,295.31 L523.41,295.82 L522.64,296.34 L521.86,296.85 L521.09,297.36 L520.33,297.87 L519.56,298.39 L518.81,298.90 L518.06,299.41 L517.31,299.92 L516.57,300.44 L515.84,300.95 L515.12,301.46 L514.41,301.97 L513.70,302.48 L513.01,303.00 L512.33,303.51 L511.65,304.02 L510.99,304.53 L510.34,305.05 L509.70,305.56 L509.07,306.07 L508.45,306.58 L507.85,307.10 L507.26,307.61 L506.68,308.12 L506.12,308.63 L505.56,309.14 L505.02,309.66 L504.50,310.17 L503.99,310.68 L503.49,311.19 L503.00,311.71 L502.53,312.22 L502.07,312.73 L501.62,313.24 L501.19,313.76 L500.77,314.27 L500.36,314.78 L499.97,315.29 L499.59,315.81 L499.22,316.32 L498.86,316.83 L498.51,317.34 L498.18,317.85 L497.86,318.37 L497.55,318.88 L497.25,319.39 L496.97,319.90 L496.69,320.42 L496.43,320.93 L496.17,321.44 L495.93,321.95 L495.69,322.47 L495.47,322.98 L495.25,323.49 L495.04,324.00 L494.85,324.51 L494.66,325.03 L494.48,325.54 L494.30,326.05 L494.14,326.56 L493.98,327.08 L493.83,327.59 L493.69,328.10 L493.55,328.61 L493.42,329.13 L493.30,329.64 L493.18,330.15 L493.07,330.66 L492.97,331.18 L492.87,331.69 L492.77,332.20 L492.68,332.71 L492.60,333.22 L492.52,333.74 L492.44,334.25 L492.37,334.76 L492.30,335.27 L492.24,335.79 L492.18,336.30 L492.12,336.81 L492.07,337.32 L492.02,337.84 L491.97,338.35 L491.92,338.86 L491.88,339.37 L491.84,339.88 L491.80,340.40 L491.77,340.91 L491.74,341.42 L491.71,341.93 L491.68,342.45 L491.65,342.96 L491.63,343.47 L491.60,343.98 L491.58,344.50 L491.56,345.01 L491.54,345.52 L491.52,346.03 L491.51,346.55 L491.49,347.06 L491.48,347.57 L491.46,348.08 L491.45,348.59 L491.44,349.11 L491.43,349.62 L491.42,350.13 L491.41,350.64 L491.40,351.16 L491.39,351.67 L491.38,352.18 L491.38,352.69 L491.37,353.21 L491.37,353.72 L491.36,354.23 L491.36,354.74 L491.35,355.25 L491.35,355.77 L491.34,356.28 L491.34,356.79 L491.34,357.30 L491.33,357.82 L491.33,358.33 L491.33,358.84 L491.32,359.35 L491.32,359.87 L491.32,360.38 L491.32,360.89 L491.32,361.40 L491.32,361.92 L491.31,362.43 L491.31,362.94 L491.31,363.45 L491.31,363.96 L491.31,364.48 L491.31,364.99 L491.31,365.50 L491.31,366.01 L491.31,366.53 L491.31,367.04 L491.31,367.55 L491.30,368.06 L491.30,368.58 L491.30,369.09 L491.30,369.60" fill="none" stroke="#111" stroke-width="2.9"/>
</svg>
</body></html>
